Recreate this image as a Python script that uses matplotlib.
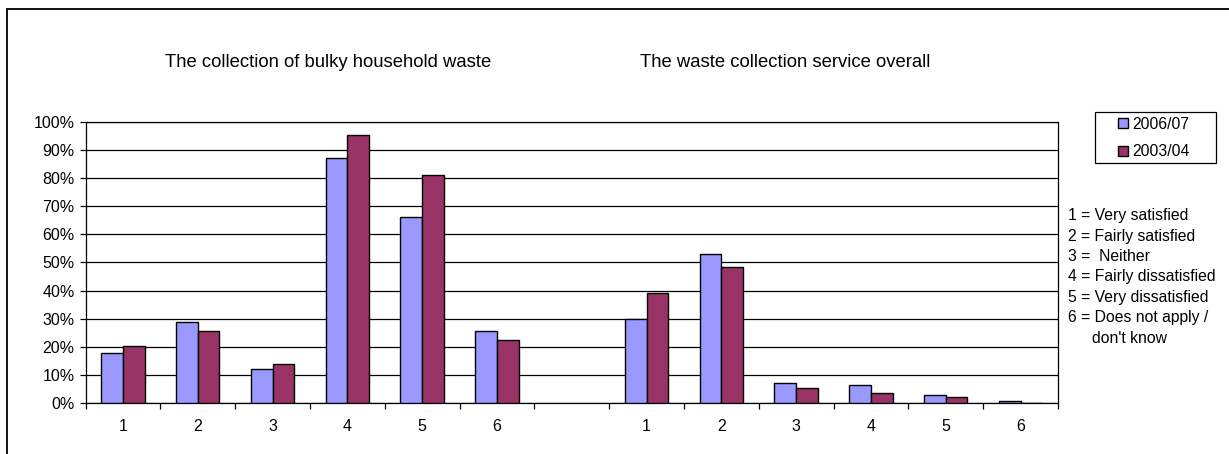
import numpy as np
import matplotlib
matplotlib.use("Agg")
import matplotlib.pyplot as plt
from matplotlib.patches import Rectangle, Patch
from matplotlib.ticker import FixedLocator, FixedFormatter

plt.rcParams['font.family'] = ['Liberation Sans', 'DejaVu Sans']

# ---- data ----
categories = ['1', '2', '3', '4', '5', '6']
series_names = ['2006/07', '2003/04']
bulky_2006 = [18.0, 29.0, 12.2, 87.0, 66.0, 25.8]
bulky_2003 = [20.4, 25.8, 14.0, 95.2, 81.0, 22.4]
overall_2006 = [29.8, 52.9, 7.1, 6.5, 3.0, 0.9]
overall_2003 = [39.3, 48.5, 5.6, 3.5, 2.2, 0.0]
group_titles = ['The collection of bulky household waste',
                'The waste collection service overall']
key_lines = ['1 = Very satisfied', '2 = Fairly satisfied', '3 =  Neither',
             '4 = Fairly dissatisfied', '5 = Very dissatisfied',
             '6 = Does not apply /']
key_cont = "don't know"
yticks = [0, 10, 20, 30, 40, 50, 60, 70, 80, 90, 100]

# combined category axis: group1, empty slot, group2
s2006 = bulky_2006 + [np.nan] + overall_2006
s2003 = bulky_2003 + [np.nan] + overall_2003
labels = categories + [''] + categories
x = np.arange(len(labels))

W, H = 1229, 454
fig = plt.figure(figsize=(W / 100, H / 100), dpi=100)
fig.patch.set_facecolor('white')

L, R, T, B = 85.5, 1058, 121.5, 403.3
ax = fig.add_axes([L / W, 1 - B / H, (R - L) / W, (B - T) / H])

c1, c2 = '#9999FF', '#993366'
bw = 0.29
ax.bar(x - bw / 2, s2006, width=bw, color=c1, edgecolor='black', linewidth=1.0,
       label=series_names[0], zorder=3)
ax.bar(x + bw / 2, s2003, width=bw, color=c2, edgecolor='black', linewidth=1.0,
       label=series_names[1], zorder=3)

ax.set_xlim(-0.5, len(labels) - 0.5)
ax.set_ylim(0, 100)

# gridlines
ax.set_yticks(yticks)
ax.set_yticklabels([f'{v}%' for v in yticks])
ax.yaxis.grid(True, color='black', linewidth=0.9, zorder=0)
ax.set_axisbelow(True)

# x ticks: boundaries major, labels minor
ax.xaxis.set_major_locator(FixedLocator(np.arange(len(labels) + 1) - 0.5))
ax.xaxis.set_major_formatter(FixedFormatter([''] * (len(labels) + 1)))
ax.xaxis.set_minor_locator(FixedLocator(x))
ax.xaxis.set_minor_formatter(FixedFormatter(labels))
ax.tick_params(axis='x', which='major', direction='out', length=4, width=0.9,
               color='black')
ax.tick_params(axis='x', which='minor', length=0, pad=11, labelsize=11.5)
ax.tick_params(axis='y', which='major', direction='out', length=4, width=0.9,
               pad=4, labelsize=11.5)

for s in ['left', 'bottom', 'right', 'top']:
    ax.spines[s].set_color('black')
    ax.spines[s].set_linewidth(0.9)

# group titles
fig.text(328 / W, 1 - 62.5 / H, group_titles[0], ha='center', va='center',
         fontsize=13.3)
fig.text(785 / W, 1 - 62.5 / H, group_titles[1], ha='center', va='center',
         fontsize=13.3)

# legend
handles = [Patch(facecolor=c1, edgecolor='black', linewidth=1.0),
           Patch(facecolor=c2, edgecolor='black', linewidth=1.0)]
fig.legend(handles, series_names, loc='center',
           bbox_to_anchor=(1154 / W, 1 - 138 / H), frameon=False,
           fontsize=11.3, handlelength=0.65, handleheight=0.65,
           handletextpad=0.25, labelspacing=0.8, borderpad=0, borderaxespad=0)
fig.add_artist(Rectangle((1095 / W, 1 - 163 / H), (1216 - 1095) / W,
                         (163 - 112) / H, transform=fig.transFigure,
                         fill=False, edgecolor='black', linewidth=0.9))

# key text
y0, dy = 215.7, 20.4
for i, t in enumerate(key_lines):
    fig.text(1068 / W, 1 - (y0 + i * dy) / H, t, ha='left', va='center',
             fontsize=11.3)
fig.text(1092 / W, 1 - (y0 + 6 * dy) / H, key_cont, ha='left', va='center',
         fontsize=11.3)

# outer frame (left/top visible)
fig.add_artist(Rectangle((7 / W, -0.2), 1.5, 1.2 - 9 / H,
                         transform=fig.transFigure, fill=False,
                         edgecolor='black', linewidth=1.3, clip_on=False))

fig.savefig('out.png', dpi=100, facecolor='white')
